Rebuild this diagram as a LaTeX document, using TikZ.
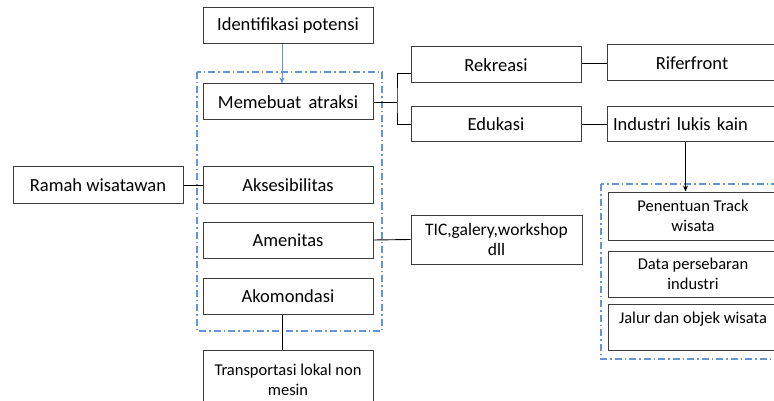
\documentclass[tikz,border=0pt]{standalone}
\usepackage{fontspec}
\setmainfont{Carlito}
\usetikzlibrary{arrows.meta,calc}
\definecolor{boxline}{RGB}{60,60,60}
\definecolor{dashblue}{RGB}{100,150,215}
\begin{document}
\begin{tikzpicture}[x=1pt,y=-1pt,
  box/.style={draw=boxline,line width=1pt,minimum width=170pt,minimum height=36pt,inner sep=0pt,align=center,font=\fontsize{18.5}{20}\selectfont},
  smallbox/.style={box,font=\fontsize{16.5}{20}\selectfont},
  grp/.style={draw=dashblue,line width=1.2pt,dash pattern=on 7pt off 3pt on 1.5pt off 3pt},
  conn/.style={draw=black,line width=0.9pt}]
\useasboundingbox (0,0) rectangle (774,401);
\clip (0,0) rectangle (774,401);
\fill[white] (0,0) rectangle (774,401);
% dashed groups
\draw[grp] (197,72) rectangle (382,331);
\draw[grp] (601,184) rectangle (790,359);
% nodes
\node[box] (ident) at (288,26) {Identifikasi potensi};
\node[box] (memb) at (288,102) {Memebuat\, atraksi};
\node[box] (aks) at (288,185) {Aksesibilitas};
\node[box] (amen) at (288,240) {Amenitas};
\node[box] (akom) at (288,296) {Akomondasi};
\node[smallbox,minimum height=60pt] (trans) at (288,380) {Transportasi lokal non\\mesin};
\node[box] (ramah) at (98,185) {Ramah wisatawan};
\node[box] (rek) at (496,65) {Rekreasi};
\node[box,minimum height=35pt] (edu) at (496,124.5) {Edukasi};
\node[box] (rif) at (692,63) {Riferfront};
\node[box,minimum height=35pt,text width=158pt,align=left] (ind) at (692,124.5) {Industri lukis kain};
\node[box,minimum width=171pt,minimum height=49pt,font=\fontsize{17.5}{20}\selectfont] (tic) at (496.5,239.5) {TIC,galery,workshop\\dll};
\node[smallbox,minimum height=48pt] (pen) at (693,216) {Penentuan Track\\wisata};
\node[smallbox,minimum height=46pt] (data) at (693,274) {Data persebaran\\industri};
\node[smallbox,minimum height=46pt] (jal) at (693,327) {Jalur dan objek wisata\\[-2pt]~};
% connectors
\coordinate (ida) at ($(ident.south)+(-6,0)$);
\draw[draw=dashblue,line width=0.9pt,-{Stealth[length=6pt,width=5pt]}] (ida) -- (ida |- memb.north);
\coordinate (br) at (397,102);
\coordinate (rj) at ($(rek.west)+(0,8)$);
\draw[conn] (memb.east) -- (br);
\draw[conn] (rj) -| (br) |- (edu.west);
\draw[conn] (rek.east |- rif.west) -- (rif.west);
\draw[conn] (edu.east) -- (ind.west);
\coordinate (ia) at ($(ind.south west)+(79,0)$);
\draw[conn,-{Stealth[length=6pt,width=5pt]}] (ia) -- (ia |- pen.north);
\draw[conn] (ramah.east) -- (aks.west);
\draw[conn] (amen.east) -- (tic.west);
\coordinate (aka) at ($(akom.south)+(-6,0)$);
\draw[conn] (aka) -- (aka |- trans.north);
\end{tikzpicture}
\end{document}
